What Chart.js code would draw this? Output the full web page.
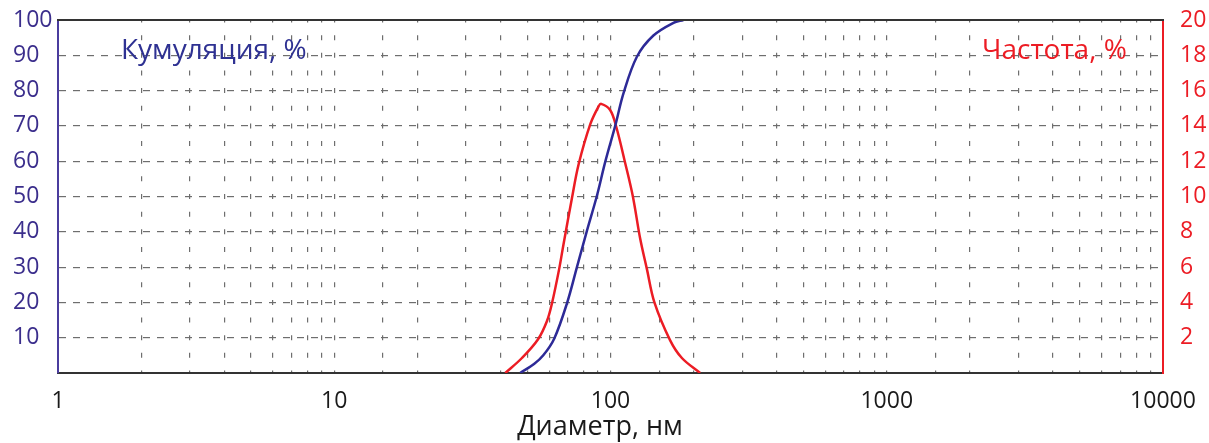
<!DOCTYPE html>
<html><head><meta charset="utf-8">
<script src="https://cdn.jsdelivr.net/npm/chart.js@4.4.0/dist/chart.umd.min.js"></script>
<style>html,body{margin:0;padding:0;background:#fff;overflow:hidden;} canvas{display:block;}</style>
</head><body>
<canvas id="c" width="1209" height="443"></canvas>
<script>
// ---- data ----
const xTickLabels = [1, 10, 100, 1000, 10000];
const leftTickLabels = [10, 20, 30, 40, 50, 60, 70, 80, 90, 100];
const rightTickLabels = [2, 4, 6, 8, 10, 12, 14, 16, 18, 20];
const cumDiameters = [47.1, 53.0, 57.1, 62.6, 69.6, 75.6, 82.1, 89.3, 95.7, 104.0, 111.4, 124.6, 143.0, 169.0, 183.7];
const cumValues    = [0, 2.6, 5.0, 9.8, 19.8, 30.0, 40.2, 50.2, 59.8, 70.0, 79.2, 89.6, 95.6, 99.2, 100];
const freqDiameters = [41.6, 47.8, 54.6, 58.9, 61.4, 65.2, 67.6, 72.5, 76.6, 84.5, 90.5, 92.5, 99.7, 104.9, 113.0, 120.5, 128.1, 135.4, 144.2, 164.4, 181.3, 211.1];
const freqValues    = [0, 0.85, 1.9, 2.95, 3.95, 5.9, 7.3, 9.9, 11.8, 14.1, 15.1, 15.25, 14.9, 13.95, 11.9, 10.0, 7.6, 5.9, 4.0, 1.85, 0.85, 0];
const cumLabel = 'Кумуляция, %';
const freqLabel = 'Частота, %';
const xTitle = 'Диаметр, нм';

const BLUE = '#2d2a97', BLUE_TXT = '#3b2e8c', RED = '#ec1c24', GRID = '#6e6e6e', DARK = '#333333';
const FONT = '"Open Sans", "Noto Sans", sans-serif';

const toPts = (xs, ys) => xs.map((x, i) => ({x: x, y: ys[i]}));

const overlay = {
  id: 'overlay',
  afterDraw(chart) {
    const {ctx, chartArea: a} = chart;
    ctx.save();
    ctx.strokeStyle = DARK; ctx.lineWidth = 2;
    ctx.beginPath(); ctx.moveTo(a.left - 1, a.top); ctx.lineTo(a.right + 1, a.top); ctx.stroke();
    ctx.font = '28px ' + FONT;
    ctx.textBaseline = 'middle';
    ctx.fillStyle = '#2e3192'; ctx.textAlign = 'left';
    ctx.fillText(cumLabel, 121, 51);
    ctx.fillStyle = RED;
    ctx.fillText(freqLabel, 982, 51);
    ctx.font = '27px ' + FONT;
    ctx.fillStyle = '#1a1a1a'; ctx.textAlign = 'center'; ctx.textBaseline = 'alphabetic';
    ctx.fillText(xTitle, 600, 435);
    ctx.restore();
  }
};

const noPadY = s => { s.paddingTop = 0; s.paddingBottom = 0; };

new Chart(document.getElementById('c'), {
  type: 'line',
  data: {
    datasets: [
      {label: cumLabel, data: toPts(cumDiameters, cumValues), yAxisID: 'y', borderColor: BLUE, borderWidth: 2.5, pointRadius: 0, tension: 0.35, fill: false},
      {label: freqLabel, data: toPts(freqDiameters, freqValues), yAxisID: 'y2', borderColor: RED, borderWidth: 2.5, pointRadius: 0, tension: 0.35, fill: false}
    ]
  },
  options: {
    responsive: false, animation: false, devicePixelRatio: 1,
    layout: {padding: {top: 20, left: 13, right: 0, bottom: 0}},
    plugins: {legend: {display: false}, tooltip: {enabled: false}},
    scales: {
      x: {
        type: 'logarithmic', min: 1, max: 10000, position: 'bottom',
        afterFit: s => { s.height = 70; s.paddingLeft = 0; s.paddingRight = 0; },
        grid: {color: c => (c.tick && (c.tick.value === 1 || c.tick.value === 10000)) ? 'rgba(0,0,0,0)' : GRID, lineWidth: 1.2, drawTicks: false},
        border: {display: true, color: DARK, width: 2, dash: [5, 12.65], dashOffset: 2.5},
        ticks: {
          autoSkip: false, maxRotation: 0, padding: 15, color: '#1a1a1a',
          font: {family: FONT, size: 23},
          callback: v => xTickLabels.includes(v) ? String(v) : ''
        },
        title: {display: false}
      },
      y: {
        type: 'linear', min: 0, max: 100, position: 'left',
        afterFit: s => { s.width = 45; noPadY(s); },
        grid: {color: c => (c.tick && (c.tick.value === 0 || c.tick.value === 100)) ? 'rgba(0,0,0,0)' : GRID, lineWidth: 1.2, drawTicks: false},
        border: {display: true, color: '#4a3c9e', width: 2, dash: [7, 7]},
        ticks: {
          stepSize: 10, crossAlign: 'far', padding: 0, color: BLUE_TXT,
          font: {family: FONT, size: 23},
          callback: v => leftTickLabels.includes(v) ? String(v) : ''
        }
      },
      y2: {
        type: 'linear', min: 0, max: 20, position: 'right',
        afterFit: s => { s.width = 46; noPadY(s); },
        grid: {display: false, drawOnChartArea: false, drawTicks: false},
        border: {display: true, color: RED, width: 2},
        ticks: {
          stepSize: 2, crossAlign: 'near', padding: 17, color: RED,
          font: {family: FONT, size: 23},
          callback: v => rightTickLabels.includes(v) ? String(v) : ''
        }
      }
    }
  },
  plugins: [overlay]
});
</script>
</body></html>
